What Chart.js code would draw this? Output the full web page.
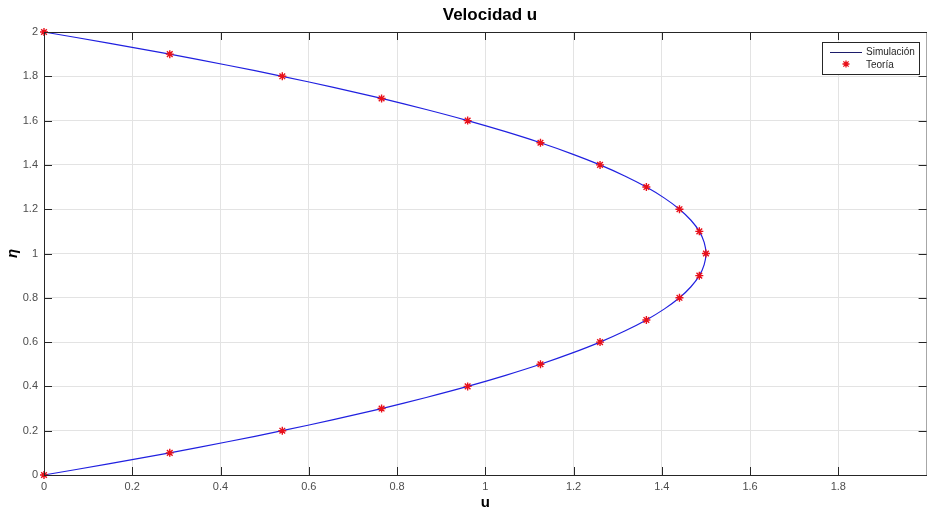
<!DOCTYPE html>
<html>
<head>
<meta charset="utf-8">
<script src="https://cdn.jsdelivr.net/npm/chart.js@4/dist/chart.umd.min.js"></script>
<style>
  html, body { margin: 0; padding: 0; overflow: hidden; background: #fff; }
  #wrap { width: 932px; height: 514px; }
</style>
</head>
<body>
<div id="wrap"><canvas id="myChart" width="932" height="514"></canvas></div>
<script>
// eta values (vertical axis) and u values
let etaSim = [0,0.05,0.1,0.15,0.2,0.25,0.3,0.35,0.4,0.45,0.5,0.55,0.6,0.65,0.7,0.75,0.8,0.85,0.9,0.95,1,
              1.05,1.1,1.15,1.2,1.25,1.3,1.35,1.4,1.45,1.5,1.55,1.6,1.65,1.7,1.75,1.8,1.85,1.9,1.95,2];
let uSim = [0,0.146,0.285,0.416,0.54,0.656,0.765,0.866,0.96,1.046,1.125,1.196,1.26,1.316,1.365,1.406,1.44,1.466,1.485,1.496,1.5,
            1.496,1.485,1.466,1.44,1.406,1.365,1.316,1.26,1.196,1.125,1.046,0.96,0.866,0.765,0.656,0.54,0.416,0.285,0.146,0];
let etaTeo = [0,0.1,0.2,0.3,0.4,0.5,0.6,0.7,0.8,0.9,1,1.1,1.2,1.3,1.4,1.5,1.6,1.7,1.8,1.9,2];
let uTeo = [0,0.285,0.54,0.765,0.96,1.125,1.26,1.365,1.44,1.485,1.5,1.485,1.44,1.365,1.26,1.125,0.96,0.765,0.54,0.285,0];
let xTicks = [0,0.2,0.4,0.6,0.8,1,1.2,1.4,1.6,1.8];
let yTicks = [0,0.2,0.4,0.6,0.8,1,1.2,1.4,1.6,1.8,2];

let fontFam = "'Liberation Sans', Arial, sans-serif";

let boxPlugin = {
  id: 'matlabBox',
  afterDraw(chart) {
    let c = chart.ctx, a = chart.chartArea;
    let xs = chart.scales.x, ys = chart.scales.y;
    c.save();
    c.strokeStyle = '#262626';
    c.lineWidth = 1;
    c.beginPath();
    c.rect(a.left + 0.5, a.top + 0.5, a.right - a.left, a.bottom - a.top);
    c.stroke();
    // inward ticks
    c.beginPath();
    xTicks.forEach(v => {
      let px = Math.round(xs.getPixelForValue(v)) + 0.5;
      c.moveTo(px, a.bottom); c.lineTo(px, a.bottom - 8);
      c.moveTo(px, a.top); c.lineTo(px, a.top + 8);
    });
    yTicks.forEach(v => {
      let py = Math.round(ys.getPixelForValue(v)) + 0.5;
      c.moveTo(a.left, py); c.lineTo(a.left + 8, py);
      c.moveTo(a.right, py); c.lineTo(a.right - 8, py);
    });
    c.stroke();

    // title
    c.fillStyle = '#000';
    c.font = 'bold 17px ' + fontFam;
    c.textAlign = 'center';
    c.textBaseline = 'middle';
    c.fillText('Velocidad u', 490, 15);

    // legend
    let lx = 822, ly = 42, lw = 97, lh = 32;
    c.fillStyle = '#fff';
    c.fillRect(lx, ly, lw, lh);
    c.strokeStyle = '#262626';
    c.strokeRect(lx + 0.5, ly + 0.5, lw, lh);
    c.strokeStyle = '#1c1c6a';
    c.beginPath();
    c.moveTo(830, 52.5); c.lineTo(862, 52.5);
    c.stroke();
    c.strokeStyle = '#e8101a';
    c.lineWidth = 1.3;
    c.beginPath();
    let sx = 846, sy = 64, r = 3.5;
    c.moveTo(sx - r, sy); c.lineTo(sx + r, sy);
    c.moveTo(sx, sy - r); c.lineTo(sx, sy + r);
    c.moveTo(sx - r * 0.75, sy - r * 0.75); c.lineTo(sx + r * 0.75, sy + r * 0.75);
    c.moveTo(sx - r * 0.75, sy + r * 0.75); c.lineTo(sx + r * 0.75, sy - r * 0.75);
    c.stroke();
    c.fillStyle = '#262626';
    c.font = '10px ' + fontFam;
    c.textAlign = 'left';
    c.fillText('Simulación', 866, 52);
    c.fillText('Teoría', 866, 65);
    c.restore();
  }
};

let simData = uSim.map((u, i) => ({x: u, y: etaSim[i]}));
let teoData = uTeo.map((u, i) => ({x: u, y: etaTeo[i]}));

let ctx = document.getElementById('myChart').getContext('2d');

const myChart = new Chart(ctx, {
    type: 'scatter',
    data: {
        datasets: [{
            label: 'Simulación',
            data: simData,
            showLine: true,
            borderColor: '#2020e0',
            borderWidth: 1.2,
            pointRadius: 0,
            tension: 0.3,
            clip: false,
            order: 2
        }, {
            label: 'Teoría',
            data: teoData,
            showLine: false,
            pointStyle: 'star',
            pointRadius: 4,
            borderColor: '#e8101a',
            backgroundColor: '#e8101a',
            borderWidth: 1.4,
            clip: false,
            order: 1
        }]
    },
    options: {
        responsive: false,
        animation: false,
        layout: { padding: { top: 32, right: 0, bottom: 0, left: 0 } },
        plugins: {
            legend: { display: false },
            title: { display: false },
            tooltip: { enabled: false }
        },
        scales: {
            x: {
                type: 'linear',
                min: 0,
                max: 2,
                afterBuildTicks: s => { s.ticks = xTicks.map(v => ({value: v})); },
                afterFit: s => { s.height = 39; },
                grid: { color: '#e3e3e3', drawTicks: false },
                border: { display: false },
                ticks: {
                    padding: 5,
                    color: '#4d4d4d',
                    font: { family: fontFam, size: 11 },
                    callback: v => String(Math.round(v * 10) / 10)
                },
                title: {
                    display: true,
                    text: 'u',
                    color: '#000',
                    padding: { top: 0, bottom: 2 },
                    font: { family: fontFam, size: 15, weight: 'bold' }
                }
            },
            y: {
                type: 'linear',
                min: 0,
                max: 2,
                afterBuildTicks: s => { s.ticks = yTicks.map(v => ({value: v})); },
                afterFit: s => { s.width = 44; },
                grid: { color: '#e3e3e3', drawTicks: false },
                border: { display: false },
                ticks: {
                    padding: 6,
                    color: '#4d4d4d',
                    font: { family: fontFam, size: 11 },
                    callback: v => String(Math.round(v * 10) / 10)
                },
                title: {
                    display: true,
                    text: 'η',
                    color: '#000',
                    padding: { top: 4, bottom: 0 },
                    font: { family: fontFam, size: 15, weight: 'bold', style: 'italic' }
                }
            }
        }
    },
    plugins: [boxPlugin]
});
</script>
</body>
</html>
